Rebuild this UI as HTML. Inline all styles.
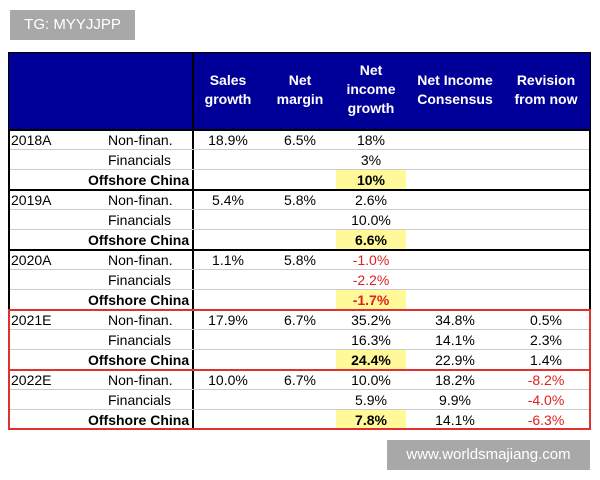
<!DOCTYPE html><html><head><style>
body{margin:0;width:600px;height:480px;background:#fff;position:relative;font-family:"Liberation Sans",Arial,sans-serif;overflow:hidden}
.a{position:absolute}
.hd{position:absolute;left:8px;top:52px;width:583px;height:78px;background:#000099;border:1px solid #000;box-sizing:border-box}
.h{position:absolute;color:#fff;font-weight:bold;font-size:14px;text-align:center;line-height:19px}
.r{position:absolute;left:8px;width:583px;height:20px;font-size:14px;line-height:20px;border-bottom:1px solid #ccc;box-sizing:border-box}
.r span{position:absolute;text-align:center}
.g{position:absolute;left:8px;width:583px;height:60px;box-sizing:border-box;border:2px solid #000}
.red{color:#d22}
.y{position:absolute;left:336px;width:70px;height:20px;background:#fff99a}
</style></head><body>
<div class="a" style="left:10px;top:10px;width:125px;height:30px;background:#a8a8a8;color:#fff;font-size:15px;line-height:30px;text-align:center">TG: MYYJJPP</div>
<div class="hd"></div>
<div class="a" style="left:192px;top:52px;width:2px;height:378px;background:#000"></div>
<div class="h" style="left:193px;top:71px;width:70px">Sales<br>growth</div>
<div class="h" style="left:265px;top:71px;width:70px">Net<br>margin</div>
<div class="h" style="left:336px;top:61px;width:70px">Net<br>income<br>growth</div>
<div class="h" style="left:405px;top:71px;width:100px">Net Income<br>Consensus</div>
<div class="h" style="left:500px;top:71px;width:92px">Revision<br>from now</div>
<div class="y" style="top:170px"></div><div class="y" style="top:230px"></div><div class="y" style="top:290px"></div><div class="y" style="top:350px"></div><div class="y" style="top:410px"></div>
<div id="rows"></div>
<div class="r" style="top:130px"><span style="left:3px">2018A</span><span style="left:100px">Non-finan.</span><span style="left:185px;width:70px">18.9%</span><span style="left:257px;width:70px">6.5%</span><span style="left:328px;width:70px">18%</span></div>
<div class="r" style="top:150px"><span style="left:100px">Financials</span><span style="left:328px;width:70px">3%</span></div>
<div class="r" style="top:170px;font-weight:bold"><span style="left:80px">Offshore China</span><span style="left:328px;width:70px">10%</span></div>
<div class="r" style="top:190px"><span style="left:3px">2019A</span><span style="left:100px">Non-finan.</span><span style="left:185px;width:70px">5.4%</span><span style="left:257px;width:70px">5.8%</span><span style="left:328px;width:70px">2.6%</span></div>
<div class="r" style="top:210px"><span style="left:100px">Financials</span><span style="left:328px;width:70px">10.0%</span></div>
<div class="r" style="top:230px;font-weight:bold"><span style="left:80px">Offshore China</span><span style="left:328px;width:70px">6.6%</span></div>
<div class="r" style="top:250px"><span style="left:3px">2020A</span><span style="left:100px">Non-finan.</span><span style="left:185px;width:70px">1.1%</span><span style="left:257px;width:70px">5.8%</span><span class="red" style="left:328px;width:70px">-1.0%</span></div>
<div class="r" style="top:270px"><span style="left:100px">Financials</span><span class="red" style="left:328px;width:70px">-2.2%</span></div>
<div class="r" style="top:290px;font-weight:bold"><span style="left:80px">Offshore China</span><span class="red" style="left:328px;width:70px">-1.7%</span></div>
<div class="r" style="top:310px"><span style="left:3px">2021E</span><span style="left:100px">Non-finan.</span><span style="left:185px;width:70px">17.9%</span><span style="left:257px;width:70px">6.7%</span><span style="left:328px;width:70px">35.2%</span><span style="left:397px;width:100px">34.8%</span><span style="left:492px;width:92px">0.5%</span></div>
<div class="r" style="top:330px"><span style="left:100px">Financials</span><span style="left:328px;width:70px">16.3%</span><span style="left:397px;width:100px">14.1%</span><span style="left:492px;width:92px">2.3%</span></div>
<div class="r" style="top:350px"><span style="left:80px;font-weight:bold">Offshore China</span><span style="left:328px;width:70px;font-weight:bold">24.4%</span><span style="left:397px;width:100px">22.9%</span><span style="left:492px;width:92px">1.4%</span></div>
<div class="r" style="top:370px"><span style="left:3px">2022E</span><span style="left:100px">Non-finan.</span><span style="left:185px;width:70px">10.0%</span><span style="left:257px;width:70px">6.7%</span><span style="left:328px;width:70px">10.0%</span><span style="left:397px;width:100px">18.2%</span><span class="red" style="left:492px;width:92px">-8.2%</span></div>
<div class="r" style="top:390px"><span style="left:100px">Financials</span><span style="left:328px;width:70px">5.9%</span><span style="left:397px;width:100px">9.9%</span><span class="red" style="left:492px;width:92px">-4.0%</span></div>
<div class="r" style="top:410px"><span style="left:80px;font-weight:bold">Offshore China</span><span style="left:328px;width:70px;font-weight:bold">7.8%</span><span style="left:397px;width:100px">14.1%</span><span class="red" style="left:492px;width:92px">-6.3%</span></div>
<div class="g" style="top:129px;height:62px"></div>
<div class="g" style="top:189px;height:62px"></div>
<div class="g" style="top:249px;height:62px"></div>
<div class="g" style="top:309px;height:62px;border-color:#e03030"></div>
<div class="g" style="top:369px;height:61px;border-color:#e03030"></div>
<div class="a" style="left:387px;top:440px;width:203px;height:30px;background:#a8a8a8;color:#fff;font-size:15px;line-height:30px;text-align:center">www.worldsmajiang.com</div>
</body></html>
